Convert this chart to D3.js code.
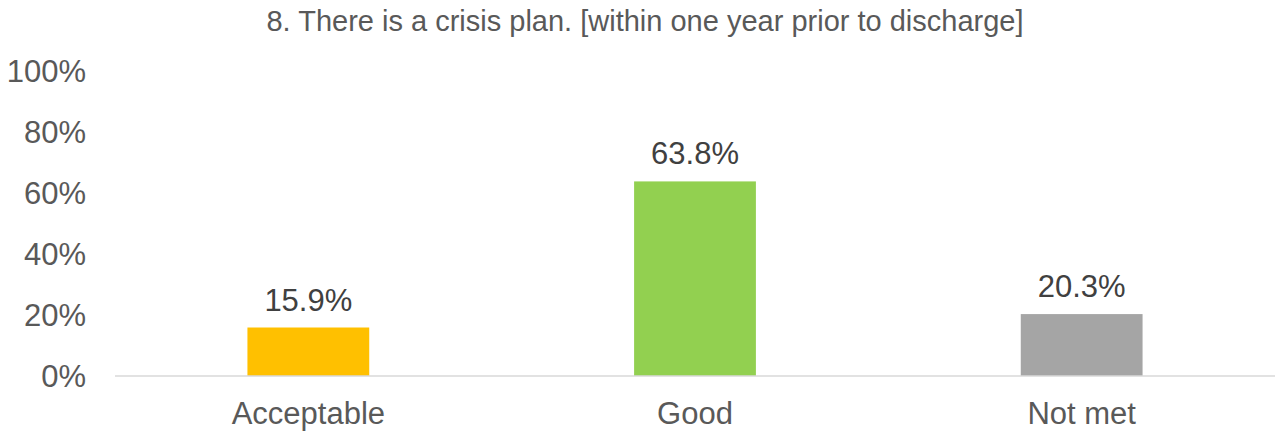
<!DOCTYPE html>
<html>
<head>
<meta charset="utf-8">
<script src="https://cdn.jsdelivr.net/npm/d3@7"></script>
<style>
  body { margin: 0; background: #fff; }
  text { font-family: "Liberation Sans", Arial, sans-serif; }
</style>
</head>
<body>
<div id="chart"></div>
<script>
// chart data
const categories = ["Acceptable", "Good", "Not met"];
const values = [0.159, 0.638, 0.203];
const barColors = ["#FFC000", "#92D050", "#A5A5A5"];
const yTicks = [0, 0.2, 0.4, 0.6, 0.8, 1.0];
const title = "8. There is a crisis plan. [within one year prior to discharge]";

const width = 1278, height = 431;
const margin = { top: 71, right: 3, bottom: 55, left: 115 };

const svg = d3.select("#chart")
    .append("svg")
    .attr("width", width)
    .attr("height", height);

const x = d3.scaleBand()
    .domain(categories)
    .range([margin.left, width - margin.right])
    .paddingInner(0.685)
    .paddingOuter(0.3425);

const y = d3.scaleLinear()
    .domain([0, 1])
    .range([height - margin.bottom, margin.top]);

// title
svg.append("text")
    .attr("x", 645)
    .attr("y", 31)
    .attr("text-anchor", "middle")
    .attr("font-size", "29px")
    .attr("fill", "#595959")
    .text(title);

// y axis labels (no line)
svg.append("g")
    .selectAll("text")
    .data(yTicks)
    .join("text")
    .attr("x", 86)
    .attr("y", d => y(d))
    .attr("dy", "0.36em")
    .attr("text-anchor", "end")
    .attr("font-size", "31px")
    .attr("fill", "#595959")
    .text(d => d3.format(".0%")(d));

// bars
svg.append("g")
    .selectAll("rect")
    .data(values)
    .join("rect")
    .attr("x", (d, i) => x(categories[i]))
    .attr("y", d => y(d))
    .attr("width", x.bandwidth())
    .attr("height", d => y(0) - y(d))
    .attr("fill", (d, i) => barColors[i]);

// baseline
svg.append("line")
    .attr("x1", margin.left)
    .attr("x2", width - margin.right)
    .attr("y1", y(0))
    .attr("y2", y(0))
    .attr("stroke", "#D9D9D9")
    .attr("stroke-width", 1.5);

// value labels
svg.append("g")
    .selectAll("text")
    .data(values)
    .join("text")
    .attr("x", (d, i) => x(categories[i]) + x.bandwidth() / 2)
    .attr("y", d => y(d) - 17)
    .attr("text-anchor", "middle")
    .attr("font-size", "31px")
    .attr("fill", "#404040")
    .text(d => d3.format(".1%")(d));

// category labels
svg.append("g")
    .selectAll("text")
    .data(categories)
    .join("text")
    .attr("x", d => x(d) + x.bandwidth() / 2)
    .attr("y", 424)
    .attr("text-anchor", "middle")
    .attr("font-size", "31px")
    .attr("fill", "#595959")
    .text(d => d);
</script>
</body>
</html>
